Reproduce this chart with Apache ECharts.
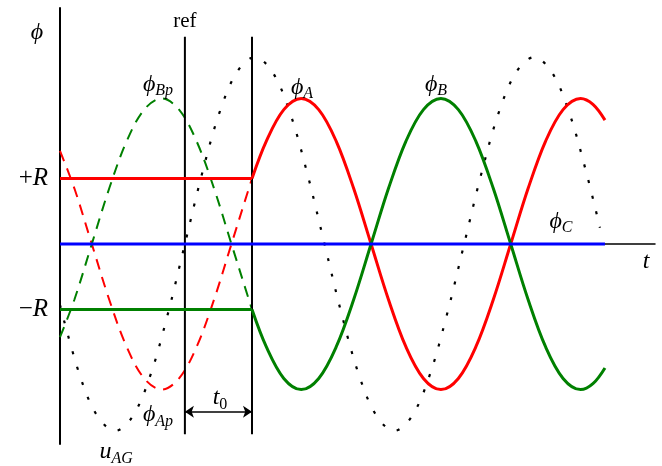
<!DOCTYPE html>
<html>
<head>
<meta charset="utf-8">
<script src="https://cdn.jsdelivr.net/npm/echarts@6/dist/echarts.min.js"></script>
<style>
  html, body { margin: 0; padding: 0; background: #fff; }
  #chart { width: 662px; height: 466px; }
</style>
</head>
<body>
<div id="chart"></div>
<script>
  // time axis is electrical angle in degrees, 0 at the "ref" instant; values in units of R
  const tStart = -161, tRef = 0, t0 = 86.5, tEnd = 541.5;
  const xMin = -161, xMax = 606, yMin = -3.05, yMax = 3.6;
  const yTicks = [1, -1];
  const yTickLabels = ['{p|+}{i|R}', '{p|−}{i|R}'];
  const markTop = 3.16, markBottom = -2.9, arrowLevel = -2.56;

  // dotted voltage u_AG
  const uAG = [[-161, -0.93], [-135, -2.02], [-112.5, -2.63], [-90, -2.85], [-67.5, -2.63],
    [-45, -2.02], [-22.5, -1.09], [0, 0], [22.5, 1.09], [45, 2.02], [67.5, 2.63], [90, 2.85],
    [112.5, 2.63], [135, 2.02], [157.5, 1.09], [180, 0], [202.5, -1.09], [225, -2.02],
    [247.5, -2.63], [270, -2.85], [292.5, -2.63], [315, -2.02], [337.5, -1.09], [360, 0],
    [382.5, 1.09], [405, 2.02], [427.5, 2.63], [450, 2.85], [472.5, 2.63], [495, 2.02],
    [517.5, 1.09], [535, 0.25]];

  // prospective (dashed) fluxes before t0
  const phiAp = [[-161, 1.42], [-142.5, 0.85], [-120, 0], [-97.5, -0.85], [-75, -1.57],
    [-52.5, -2.05], [-30, -2.22], [-7.5, -2.05], [15, -1.57], [37.5, -0.85], [60, 0],
    [82.5, 0.85], [86.5, 1.0]];
  const phiBp = [[-161, -1.42], [-142.5, -0.85], [-120, 0], [-97.5, 0.85], [-75, 1.57],
    [-52.5, 2.05], [-30, 2.22], [-7.5, 2.05], [15, 1.57], [37.5, 0.85], [60, 0],
    [82.5, -0.85], [86.5, -1.0]];

  // residual flux held until t0
  const holdA = [[tStart, 1], [t0, 1]];
  const holdB = [[tStart, -1], [t0, -1]];

  // fluxes after energisation
  const phiA = [[86.5, 1.0], [105, 1.57], [127.5, 2.05], [150, 2.22], [172.5, 2.05], [195, 1.57],
    [217.5, 0.85], [240, 0], [262.5, -0.85], [285, -1.57], [307.5, -2.05], [330, -2.22],
    [352.5, -2.05], [375, -1.57], [397.5, -0.85], [420, 0], [442.5, 0.85], [465, 1.57],
    [487.5, 2.05], [510, 2.22], [526, 2.13], [541.5, 1.89]];
  const phiB = [[86.5, -1.0], [105, -1.57], [127.5, -2.05], [150, -2.22], [172.5, -2.05], [195, -1.57],
    [217.5, -0.85], [240, 0], [262.5, 0.85], [285, 1.57], [307.5, 2.05], [330, 2.22],
    [352.5, 2.05], [375, 1.57], [397.5, 0.85], [420, 0], [442.5, -0.85], [465, -1.57],
    [487.5, -2.05], [510, -2.22], [526, -2.13], [541.5, -1.89]];
  const phiC = [[tStart, 0], [tEnd, 0]];

  // text annotations [t, value, rich text]
  const labels = [
    [-190.7, 3.22, '{m|ϕ}'],
    [0, 3.39, '{r|ref}'],
    [-34.7, 2.43, '{m|ϕ}{s|Bp}'],
    [151, 2.39, '{m|ϕ}{s|A}'],
    [323.7, 2.43, '{m|ϕ}{s|B}'],
    [484.8, 0.34, '{m|ϕ}{s|C}'],
    [594.4, -0.27, '{m|t}'],
    [-34.7, -2.61, '{m|ϕ}{s|Ap}'],
    [-88.7, -3.17, '{m|u}{s|AG}'],
    [45.3, -2.35, '{m|t}{z|0}']
  ];

  const serif = "'Liberation Serif', 'DejaVu Serif', serif";
  const RED = '#ff0000', GREEN = '#008000', BLUE = '#0000ff';

  const chart = echarts.init(document.getElementById('chart'));

  const curve = (data, color, width, type, z) => ({
    type: 'line',
    data: data,
    smooth: 0.35,
    showSymbol: false,
    silent: true,
    z: z,
    lineStyle: { color: color, width: width, type: type }
  });

  chart.setOption({
    animation: false,
    grid: { left: 60, right: 7, top: 8, bottom: 22, containLabel: false, outerBoundsMode: 'none' },
    xAxis: {
      type: 'value',
      min: xMin,
      max: xMax,
      axisLine: { show: true, onZero: true, lineStyle: { color: '#000', width: 1.5 } },
      axisTick: { show: false },
      axisLabel: { show: false },
      splitLine: { show: false }
    },
    yAxis: {
      type: 'value',
      min: yMin,
      max: yMax,
      axisLine: { show: true, onZero: false, lineStyle: { color: '#000', width: 2 } },
      axisTick: { show: false },
      splitLine: { show: false },
      axisLabel: {
        customValues: yTicks,
        margin: 12,
        formatter: (v) => {
          const k = yTicks.indexOf(v);
          return k >= 0 ? yTickLabels[k] : '';
        },
        rich: {
          p: { fontFamily: serif, fontSize: 25, color: '#000' },
          i: { fontFamily: serif, fontStyle: 'italic', fontSize: 25, color: '#000' }
        }
      }
    },
    series: [
      curve(uAG, '#000', 2.2, [3, 13], 1),
      curve(phiAp, RED, 2, [11, 8], 2),
      curve(phiBp, GREEN, 2, [11, 8], 2),
      {
        type: 'line',
        data: [[tRef, markTop], [tRef, markBottom]],
        showSymbol: false, silent: true, z: 3,
        lineStyle: { color: '#000', width: 2 }
      },
      {
        type: 'line',
        data: [[t0, markTop], [t0, markBottom]],
        showSymbol: false, silent: true, z: 3,
        lineStyle: { color: '#000', width: 2 },
        markLine: {
          silent: true,
          symbol: ['arrow', 'arrow'],
          symbolSize: 9,
          label: { show: false },
          lineStyle: { color: '#000', width: 1.5, type: 'solid' },
          data: [[{ coord: [tRef, arrowLevel] }, { coord: [t0, arrowLevel] }]]
        }
      },
      curve(holdA, RED, 3, 'solid', 4),
      curve(holdB, GREEN, 3, 'solid', 4),
      curve(phiA, RED, 3, 'solid', 5),
      curve(phiB, GREEN, 3, 'solid', 6),
      curve(phiC, BLUE, 3, 'solid', 7),
      {
        type: 'scatter',
        symbolSize: 0,
        clip: false,
        silent: true,
        z: 10,
        itemStyle: { opacity: 1 },
        data: labels.map(l => ({ value: [l[0], l[1]], label: { formatter: l[2] } })),
        label: {
          show: true,
          position: 'inside',
          color: '#000',
          rich: {
            m: { fontFamily: serif, fontStyle: 'italic', fontSize: 24, color: '#000' },
            s: { fontFamily: serif, fontStyle: 'italic', fontSize: 16, color: '#000', padding: [13, 0, 0, 0] },
            z: { fontFamily: serif, fontSize: 16, color: '#000', padding: [13, 0, 0, 0] },
            r: { fontFamily: serif, fontSize: 21, color: '#000' }
          }
        }
      }
    ]
  });
</script>
</body>
</html>
